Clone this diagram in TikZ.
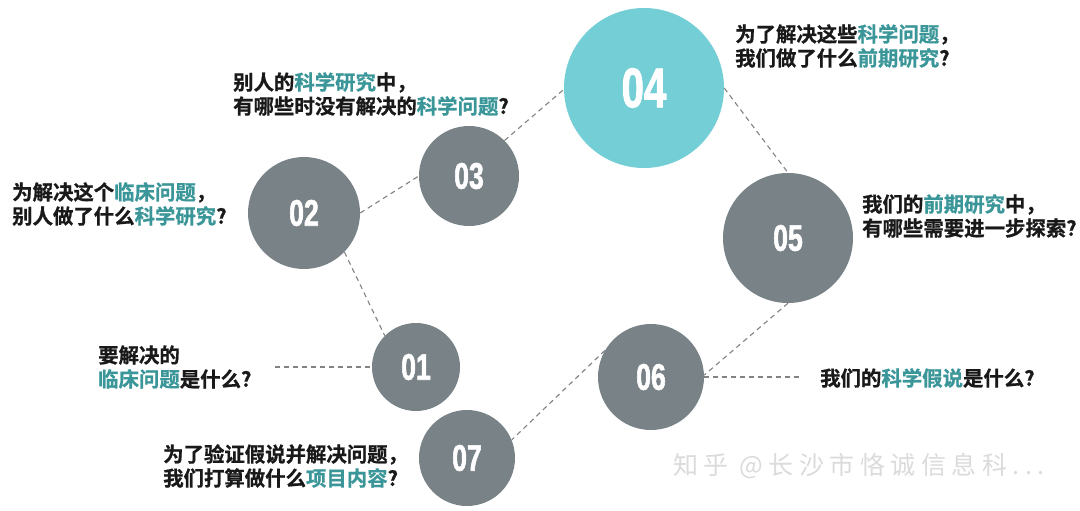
\documentclass[tikz,border=0pt]{standalone}
\usepackage{fontspec}
\newfontfamily\cjk{Noto Sans CJK SC Bold}[FakeBold=0.8]
\newfontfamily\wmfont{Noto Sans CJK SC}[LetterSpace=22]
\newfontfamily\numfont{Liberation Sans Bold}[FakeStretch=0.72,FakeBold=1.5]

\definecolor{circgray}{RGB}{121,130,135}
\definecolor{circteal}{RGB}{116,206,214}
\definecolor{keyteal}{RGB}{58,150,152}
\definecolor{linegray}{RGB}{130,130,130}
\newcommand{\kw}[1]{\textcolor{keyteal}{#1}}

\begin{document}
\begin{tikzpicture}[x=1pt,y=-1pt,
    link/.style={draw=linegray,line width=1.1pt,dash pattern=on 5pt off 4pt}]

        \useasboundingbox[fill=white] (0,0) rectangle (1080,511);

        \begin{scope}[every node/.style={circle,fill=circgray,text=white,inner sep=0pt,
            font=\numfont\fontsize{37}{37}\selectfont}]
          \node[minimum size=88pt]  (n1) at (416,367) {01};
          \node[minimum size=112pt] (n2) at (304,213) {02};
          \node[minimum size=100pt] (n3) at (469,176) {03};
          \node[minimum size=160pt,fill=circteal,
                font=\numfont\fontsize{56}{56}\selectfont] (n4) at (644,88) {04};
          \node[minimum size=130pt] (n5) at (788,238) {05};
          \node[minimum size=106pt] (n6) at (651,377) {06};
          \node[minimum size=96pt]  (n7) at (467,458) {07};
        \end{scope}

        \begin{scope}[every node/.style={anchor=west,align=left,inner sep=0pt,
            text=black!90,font=\cjk\fontsize{20.4}{24}\selectfont}]
          \node (q1) at (98,367)  {要解决的\\\kw{临床问题}是什么?};
          \node (q2) at (12,204)  {为解决这个\kw{临床问题}，\\别人做了什么\kw{科学研究}?};
          \node (q3) at (233,94)  {别人的\kw{科学研究}中，\\有哪些时没有解决的\kw{科学问题}?};
          \node (q4) at (735,46)  {为了解决这些\kw{科学问题}，\\我们做了什么\kw{前期研究}?};
          \node (q5) at (862,216) {我们的\kw{前期研究}中，\\有哪些需要进一步探索?};
          \node (q6) at (820,378) {我们的\kw{科学假说}是什么?};
          \node (q7) at (163,466) {为了验证假说并解决问题，\\我们打算做什么\kw{项目内容}?};
        \end{scope}

        \coordinate (e1) at (275,367);
        \coordinate (e6) at (802,377);

        \path[link] (n2.-44) -- (n1.135);
        \path[link] (n2.0)   -- (n3.180);
        \path[link] (n3.45)  -- (n4.181);
        \path[link] (n4.0)   -- (n5.90);
        \path[link] (n5.-90) -- (n6.2);
        \path[link] (n6.150) -- (n7.22);
        \path[link] (e1) -- (n1.west);
        \path[link] (n6.east) -- (e6);

        \node[anchor=west,inner sep=0pt,text=black!14,
              font=\wmfont\fontsize{25}{25}\selectfont] (wm) at (673,466) {知乎 @长沙市恪诚信息科...};

      \end{tikzpicture}
\end{document}
